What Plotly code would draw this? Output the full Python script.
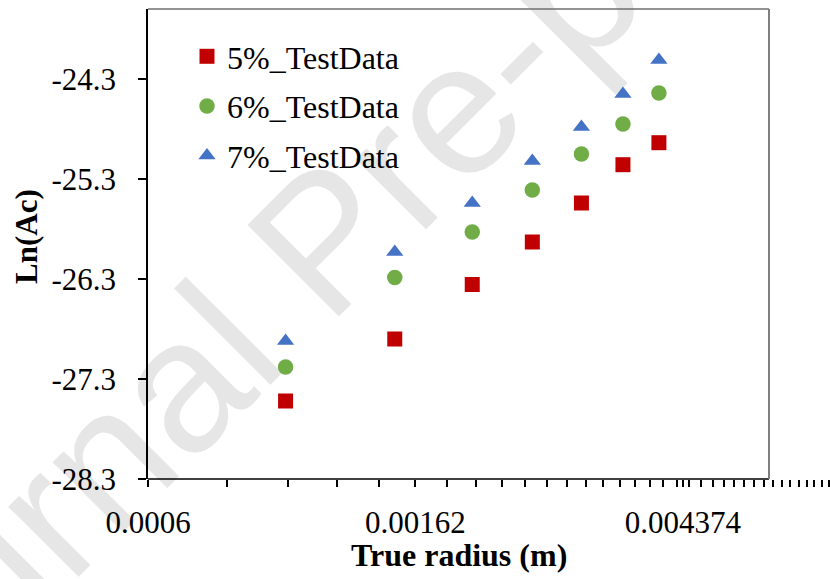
import math
import plotly.graph_objects as go

# ---- data ----
radius = [0.001, 0.0015, 0.002, 0.0025, 0.003, 0.0035, 0.004]
ln_ac_5 = [-27.52, -26.90, -26.355, -25.93, -25.54, -25.157, -24.937]
ln_ac_6 = [-27.18, -26.285, -25.83, -25.41, -25.05, -24.75, -24.44]
ln_ac_7 = [-26.92, -26.03, -25.54, -25.12, -24.78, -24.45, -24.11]
series_names = ["5%_TestData", "6%_TestData", "7%_TestData"]
x_tick_vals = [0.0006, 0.00162, 0.004374]
x_tick_text = ["0.0006", "0.00162", "0.004374"]
y_tick_vals = [-28.3, -27.3, -26.3, -25.3, -24.3]
y_tick_text = ["-28.3", "-27.3", "-26.3", "-25.3", "-24.3"]

# ---- layout geometry ----
W, H = 830, 579
L, R, T, B = 148, 0, 9, 100
plot_w = W - L - R
plot_h = H - T - B
x_min = 0.0006
px_per_decade = 620.1
x_max_log = math.log10(x_min) + plot_w / px_per_decade
border_px = 769
border_frac = (border_px - L) / plot_w

# minor ticks (Excel style: constant linear step)
minor_step = 0.000204
minor_vals = []
v = x_min
while v < 10 ** x_max_log:
    minor_vals.append(v)
    v += minor_step

FONT = "Liberation Serif, Times New Roman, Tinos, DejaVu Serif, serif"
colors = ["#C00000", "#70AD47", "#4472C4"]
symbols = ["square", "circle", "triangle-up"]
sizes = [15, 15.5, 15]

fig = go.Figure()
for name, ys, c, s, sz in zip(series_names, [ln_ac_5, ln_ac_6, ln_ac_7], colors, symbols, sizes):
    fig.add_trace(go.Scatter(
        x=radius, y=ys, mode="markers", name=name, legendgroup=name,
        marker=dict(symbol=s, color=c, size=sz, line=dict(width=0)),
        cliponaxis=False,
    ))

def px_to_paper(px, py):
    return (px - L) / plot_w, (H - B - py) / plot_h

# watermark
cx, cy = 310, 228
x0, y0 = px_to_paper(cx - 400, cy + 400)
x1, y1 = px_to_paper(cx + 400, cy - 400)
shapes = [dict(
    type="line", xref="paper", yref="paper", x0=x0, y0=y0, x1=x1, y1=y1,
    line=dict(width=0, color="rgba(0,0,0,0)"), layer="below",
    label=dict(text="Journal Pre-proof", textposition="middle", yanchor="middle",
               padding=0, font=dict(family="Liberation Sans, Arial, sans-serif", size=188, color="#e6e6e6")),
)]
# axis line (ends at the plot-area border) and plot-area border
shapes += [
    dict(type="line", xref="paper", yref="paper", x0=0, y0=0, x1=border_frac, y1=0,
         line=dict(color="black", width=1.5), layer="above"),
    dict(type="line", xref="paper", yref="paper", x0=0, y0=1, x1=border_frac, y1=1,
         line=dict(color="#6f6f6f", width=1.5), layer="above"),
    dict(type="line", xref="paper", yref="paper", x0=border_frac, y0=0, x1=border_frac, y1=1,
         line=dict(color="#7f7f7f", width=2), layer="above"),
]

fig.update_layout(
    width=W, height=H,
    margin=dict(l=L, r=R, t=T, b=B, pad=0),
    paper_bgcolor="white", plot_bgcolor="white",
    font=dict(family=FONT, size=31, color="black"),
    showlegend=True,
    legend=dict(x=(187 - L) / plot_w, y=(H - B - 29) / plot_h, xanchor="left", yanchor="top",
                bgcolor="rgba(0,0,0,0)", font=dict(family=FONT, size=32, color="black"),
                tracegroupgap=5, itemclick=False),
    shapes=shapes,
    annotations=[
        dict(text="<b>True radius (m)</b>", xref="paper", yref="paper",
             x=(459 - L) / plot_w, y=(H - B - 555) / plot_h, xanchor="center", yanchor="middle",
             showarrow=False, font=dict(family=FONT, size=32, color="black")),
        dict(text="<b>Ln(Ac)</b>", xref="paper", yref="paper", textangle=-90,
             x=(26 - L) / plot_w, y=(H - B - 237) / plot_h, xanchor="center", yanchor="middle",
             showarrow=False, font=dict(family=FONT, size=31, color="black")),
    ],
)
fig.update_xaxes(
    type="log", range=[math.log10(x_min), x_max_log],
    tickmode="array", tickvals=x_tick_vals, ticktext=x_tick_text,
    ticks="outside", ticklen=7, tickwidth=1.5, tickcolor="black",
    ticklabelstandoff=9,
    minor=dict(tickmode="array", tickvals=minor_vals, ticks="outside", ticklen=7,
               tickwidth=1.5, tickcolor="black", showgrid=False),
    showline=False, showgrid=False, zeroline=False,
    tickfont=dict(family=FONT, size=31, color="black"),
)
fig.update_yaxes(
    range=[-28.3, -23.6], tickmode="array", tickvals=y_tick_vals, ticktext=y_tick_text,
    ticks="outside", ticklen=8, tickwidth=1.5, tickcolor="black",
    ticklabelstandoff=16,
    showline=True, linecolor="black", linewidth=1.5,
    showgrid=False, zeroline=False,
    tickfont=dict(family=FONT, size=31, color="black"),
)

fig.write_html("out.html")
